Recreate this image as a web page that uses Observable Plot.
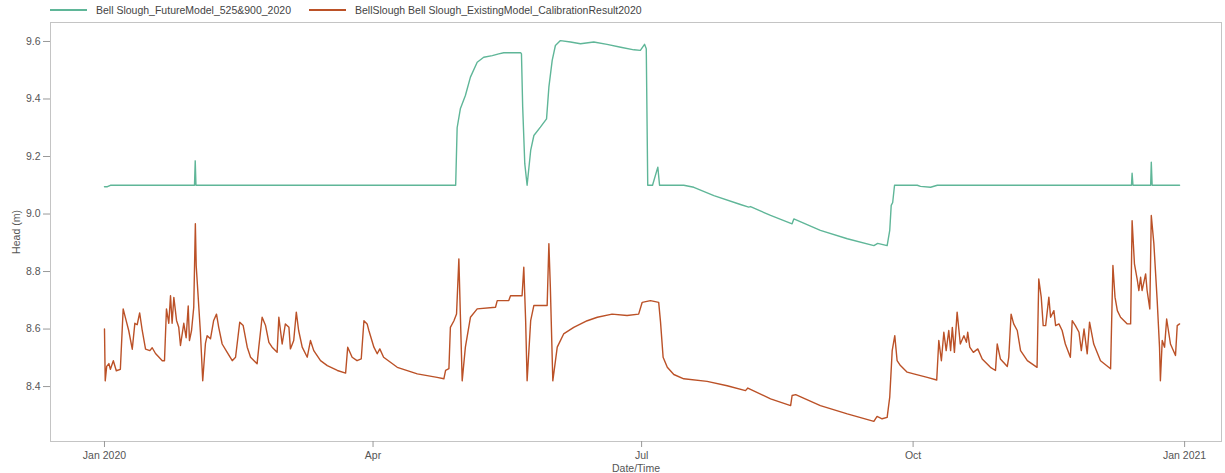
<!DOCTYPE html>
<html><head><meta charset="utf-8">
<script src="https://cdn.jsdelivr.net/npm/d3@7"></script>
<script src="https://cdn.jsdelivr.net/npm/@observablehq/plot@0.6"></script>
<style>
body{margin:0;background:#fff;font-family:"Liberation Sans",Arial,sans-serif;}
#legend{height:20px;display:flex;align-items:center;font-size:10.5px;color:#444;padding-left:50px;box-sizing:border-box;}
.item{display:flex;align-items:center;margin-right:18px;white-space:nowrap}
.sw{width:37px;height:2px;margin-right:9px}
</style></head><body>
<div id="legend"></div>
<div id="chart"></div>
<script>
const seriesNames = ["Bell Slough_FutureModel_525&900_2020", "BellSlough Bell Slough_ExistingModel_CalibrationResult2020"];
const seriesColors = ["#5fb698", "#bb5127"];

const futureDates = [
"2020-01-01 00","2020-01-02 00","2020-01-03 00","2020-01-31 12","2020-01-31 18","2020-02-01 00",
"2020-04-29 00","2020-04-29 12","2020-04-30 14","2020-05-02 07","2020-05-04 00","2020-05-06 07",
"2020-05-08 12","2020-05-11 10","2020-05-13 14","2020-05-15 07","2020-05-21 00","2020-05-21 07",
"2020-05-21 17","2020-05-22 10","2020-05-23 05","2020-05-24 10","2020-05-25 12","2020-05-27 17",
"2020-05-29 19","2020-05-30 14","2020-05-31 17","2020-06-01 19","2020-06-03 12","2020-06-06 22",
"2020-06-10 07","2020-06-14 19","2020-06-19 07","2020-06-23 22","2020-06-28 10","2020-06-30 14",
"2020-07-02 00","2020-07-02 14","2020-07-03 02","2020-07-04 17","2020-07-06 12","2020-07-07 02",
"2020-07-15 07","2020-07-18 17","2020-07-25 12","2020-08-03 12","2020-08-06 07","2020-08-06 22",
"2020-08-13 17","2020-08-21 00","2020-08-21 14","2020-08-30 14","2020-09-08 17","2020-09-17 17",
"2020-09-19 00","2020-09-22 05","2020-09-23 02","2020-09-23 14","2020-09-24 02","2020-09-24 17",
"2020-10-02 10","2020-10-03 12","2020-10-06 22","2020-10-09 05","2020-12-07 12","2020-12-14 00",
"2020-12-14 05","2020-12-14 12","2020-12-20 12","2020-12-20 17","2020-12-21 00","2020-12-30 07"
];
const futureHead = [
9.095,9.095,9.10,9.10,9.185,9.10,
9.10,9.30,9.366,9.412,9.476,9.528,
9.545,9.551,9.557,9.561,9.561,9.557,
9.372,9.175,9.10,9.221,9.273,9.302,
9.331,9.441,9.534,9.586,9.603,9.598,
9.592,9.598,9.59,9.58,9.571,9.569,
9.59,9.575,9.10,9.10,9.163,9.10,
9.10,9.093,9.064,9.033,9.024,9.026,
8.995,8.966,8.983,8.943,8.914,8.89,
8.898,8.89,8.943,9.03,9.04,9.10,
9.10,9.096,9.093,9.10,9.10,9.10,
9.142,9.10,9.10,9.18,9.10,9.10
];

const existingDates = [
"2020-01-01 00","2020-01-01 06","2020-01-01 18","2020-01-02 12","2020-01-03 00","2020-01-04 00",
"2020-01-05 00","2020-01-06 09","2020-01-07 08","2020-01-08 02","2020-01-09 05","2020-01-10 10",
"2020-01-11 07","2020-01-12 02","2020-01-12 22","2020-01-13 19","2020-01-14 22","2020-01-16 09",
"2020-01-17 04","2020-01-18 07","2020-01-20 14","2020-01-21 08","2020-01-22 00","2020-01-22 19",
"2020-01-23 09","2020-01-23 22","2020-01-24 12","2020-01-25 10","2020-01-26 04","2020-01-26 18",
"2020-01-27 21","2020-01-28 16","2020-01-29 09","2020-01-29 19","2020-01-30 12","2020-01-31 06",
"2020-01-31 19","2020-02-01 02","2020-02-02 12","2020-02-03 07","2020-02-04 05","2020-02-04 19",
"2020-02-05 22","2020-02-07 00","2020-02-07 23","2020-02-08 17","2020-02-09 21","2020-02-11 14",
"2020-02-13 07","2020-02-14 10","2020-02-15 20","2020-02-17 00","2020-02-18 09","2020-02-19 12",
"2020-02-21 17","2020-02-22 07","2020-02-23 10","2020-02-24 14","2020-02-25 17","2020-02-26 19",
"2020-02-28 12","2020-02-29 02","2020-03-01 05","2020-03-02 07","2020-03-03 12","2020-03-04 00",
"2020-03-05 03","2020-03-06 00","2020-03-06 19","2020-03-08 00","2020-03-09 17","2020-03-10 19",
"2020-03-11 22","2020-03-14 05","2020-03-16 12","2020-03-19 22","2020-03-22 17","2020-03-23 10",
"2020-03-24 22","2020-03-26 14","2020-03-28 00","2020-03-28 22","2020-03-30 00","2020-03-30 14",
"2020-04-01 07","2020-04-02 10","2020-04-03 07","2020-04-04 14","2020-04-09 05","2020-04-16 00",
"2020-04-22 17","2020-04-25 00","2020-04-25 14","2020-04-26 17","2020-04-27 05","2020-04-28 10",
"2020-04-29 07","2020-04-30 02","2020-04-30 14","2020-05-01 05","2020-05-02 07","2020-05-04 00",
"2020-05-06 07","2020-05-12 12","2020-05-13 02","2020-05-17 00","2020-05-17 14","2020-05-21 12",
"2020-05-22 02","2020-05-22 17","2020-05-23 05","2020-05-24 10","2020-05-25 12","2020-05-30 00",
"2020-05-30 14","2020-05-31 02","2020-05-31 22","2020-06-02 10","2020-06-04 14","2020-06-08 00",
"2020-06-12 14","2020-06-16 00","2020-06-21 00","2020-06-26 02","2020-06-30 00","2020-07-01 05",
"2020-07-04 00","2020-07-06 19","2020-07-07 10","2020-07-08 07","2020-07-09 17","2020-07-11 22",
"2020-07-15 07","2020-07-23 05","2020-07-30 00","2020-08-05 05","2020-08-06 00","2020-08-13 17",
"2020-08-20 12","2020-08-21 00","2020-08-22 05","2020-08-30 14","2020-09-08 17","2020-09-17 17",
"2020-09-18 19","2020-09-20 12","2020-09-22 05","2020-09-23 02","2020-09-23 22","2020-09-24 19",
"2020-09-25 14","2020-09-26 17","2020-09-29 00","2020-10-01 05","2020-10-05 19","2020-10-09 00",
"2020-10-09 17","2020-10-10 14","2020-10-11 10","2020-10-12 05","2020-10-13 02","2020-10-13 17",
"2020-10-14 07","2020-10-15 00","2020-10-15 22","2020-10-17 00","2020-10-18 05","2020-10-19 02",
"2020-10-19 12","2020-10-20 05","2020-10-21 10","2020-10-22 22","2020-10-24 10","2020-10-27 05",
"2020-10-28 22","2020-10-29 12","2020-10-30 14","2020-11-01 22","2020-11-02 10","2020-11-03 05",
"2020-11-04 02","2020-11-05 07","2020-11-06 10","2020-11-08 17","2020-11-12 00","2020-11-12 14",
"2020-11-13 10","2020-11-14 02","2020-11-14 22","2020-11-16 00","2020-11-16 14","2020-11-17 17",
"2020-11-18 07","2020-11-19 10","2020-11-20 12","2020-11-21 14","2020-11-23 07","2020-11-23 22",
"2020-11-25 00","2020-11-26 05","2020-11-27 00","2020-11-27 22","2020-11-29 00","2020-11-29 19",
"2020-12-01 05","2020-12-03 12","2020-12-06 22","2020-12-07 17","2020-12-08 10","2020-12-09 05",
"2020-12-10 07","2020-12-12 14","2020-12-13 17","2020-12-14 05","2020-12-15 00","2020-12-15 22",
"2020-12-16 12","2020-12-17 02","2020-12-17 14","2020-12-18 19","2020-12-19 07","2020-12-20 05",
"2020-12-20 17","2020-12-21 14","2020-12-22 17","2020-12-23 12","2020-12-23 19","2020-12-24 10",
"2020-12-25 05","2020-12-25 22","2020-12-27 05","2020-12-28 22","2020-12-29 12","2020-12-30 07"
];
const existingHead = [
8.60,8.42,8.47,8.48,8.46,8.49,
8.455,8.46,8.67,8.64,8.595,8.53,
8.62,8.615,8.656,8.595,8.53,8.525,
8.535,8.515,8.49,8.49,8.67,8.62,
8.716,8.62,8.71,8.63,8.606,8.543,
8.62,8.57,8.68,8.56,8.595,8.676,
8.966,8.82,8.59,8.42,8.55,8.577,
8.566,8.63,8.652,8.606,8.548,8.519,
8.49,8.502,8.624,8.612,8.537,8.502,
8.479,8.537,8.641,8.612,8.554,8.537,
8.519,8.641,8.548,8.618,8.606,8.531,
8.56,8.659,8.595,8.537,8.502,8.56,
8.525,8.49,8.473,8.456,8.447,8.537,
8.502,8.49,8.496,8.629,8.618,8.595,
8.537,8.514,8.531,8.502,8.467,8.444,
8.432,8.427,8.456,8.462,8.606,8.629,
8.652,8.844,8.652,8.42,8.537,8.641,
8.67,8.676,8.699,8.699,8.716,8.716,
8.815,8.629,8.42,8.629,8.682,8.682,
8.897,8.745,8.42,8.537,8.583,8.606,
8.629,8.641,8.652,8.647,8.652,8.693,
8.699,8.693,8.624,8.502,8.467,8.442,
8.427,8.418,8.403,8.386,8.395,8.357,
8.334,8.369,8.372,8.334,8.305,8.279,
8.296,8.288,8.293,8.363,8.525,8.577,
8.49,8.473,8.45,8.444,8.432,8.423,
8.56,8.49,8.589,8.525,8.595,8.525,
8.606,8.519,8.659,8.548,8.577,8.554,
8.589,8.537,8.519,8.531,8.496,8.467,
8.456,8.548,8.496,8.47,8.502,8.652,
8.618,8.595,8.525,8.49,8.467,8.774,
8.711,8.612,8.612,8.711,8.641,8.664,
8.612,8.618,8.595,8.548,8.502,8.629,
8.612,8.589,8.525,8.60,8.514,8.624,
8.548,8.49,8.462,8.821,8.711,8.664,
8.641,8.618,8.618,8.977,8.827,8.774,
8.734,8.78,8.734,8.792,8.734,8.67,
8.995,8.897,8.699,8.537,8.42,8.56,
8.537,8.635,8.548,8.508,8.612,8.618
];

const xTickDates = ["2020-01-01","2020-04-01","2020-07-01","2020-10-01","2021-01-01"];
const xTickLabels = ["Jan 2020","Apr","Jul","Oct","Jan 2021"];
const yTicks = [8.4, 8.6, 8.8, 9.0, 9.2, 9.4, 9.6];
const xDomainDates = ["2019-12-13 17","2021-01-13 12"];
const yDomain = [8.209, 9.666];

const parseT = d3.utcParse("%Y-%m-%d %H");
const parseD = d3.utcParse("%Y-%m-%d");

const rows = [];
futureDates.forEach((d, i) => rows.push({series: seriesNames[0], date: parseT(d), head: futureHead[i]}));
existingDates.forEach((d, i) => rows.push({series: seriesNames[1], date: parseT(d), head: existingHead[i]}));

const xTicks = xTickDates.map(parseD);
const tickLabelMap = new Map(xTicks.map((d, i) => [+d, xTickLabels[i]]));

// legend
const legend = document.getElementById("legend");
seriesNames.forEach((name, i) => {
  const item = document.createElement("div");
  item.className = "item";
  const sw = document.createElement("div");
  sw.className = "sw";
  sw.style.background = seriesColors[i];
  const tx = document.createElement("span");
  tx.textContent = name;
  item.appendChild(sw); item.appendChild(tx);
  legend.appendChild(item);
});

const chart = Plot.plot({
  width: 1225,
  height: 453,
  marginTop: 2,
  marginBottom: 32,
  marginLeft: 50,
  marginRight: 4,
  style: {fontFamily: "'Liberation Sans', Arial, sans-serif", fontSize: "10.5px", background: "#fff", color: "#555"},
  x: {type: "utc", domain: xDomainDates.map(parseT)},
  y: {domain: yDomain},
  color: {domain: seriesNames, range: seriesColors},
  marks: [
    Plot.frame({stroke: "#c4c4c4"}),
    Plot.axisX({ticks: xTicks, tickFormat: d => tickLabelMap.get(+d), tickSize: 6, tickPadding: 4,
      stroke: "#999", fill: "#555", label: "Date/Time", labelAnchor: "center", labelArrow: "none", labelOffset: 30}),
    Plot.axisY({ticks: yTicks, tickFormat: ".1f", tickSize: 7, tickPadding: 3,
      stroke: "#999", fill: "#555", label: "Head (m)", labelAnchor: "center", labelArrow: "none", labelOffset: 38}),
    Plot.line(rows, {x: "date", y: "head", z: "series", stroke: "series", strokeWidth: 1.4})
  ]
});
document.getElementById("chart").appendChild(chart);
</script>
</body></html>
